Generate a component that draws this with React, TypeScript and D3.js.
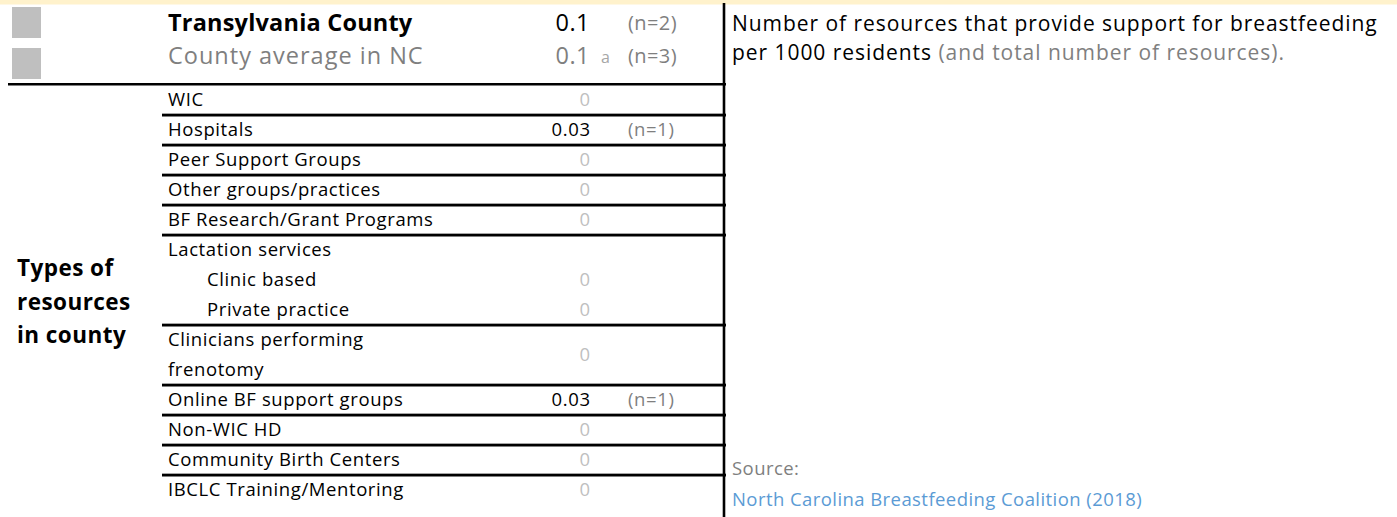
import React from "react";
import * as d3 from "d3";

// header rows
const summaryLabels = ["Transylvania County", "County average in NC"];
const summaryRates = [0.1, 0.1];
const summaryCounts = [2, 3];

// table rows
const resourceTypes = [
  "WIC",
  "Hospitals",
  "Peer Support Groups",
  "Other groups/practices",
  "BF Research/Grant Programs",
  "Lactation services",
  "Clinic based",
  "Private practice",
  "Clinicians performing frenotomy",
  "Online BF support groups",
  "Non-WIC HD",
  "Community Birth Centers",
  "IBCLC Training/Mentoring",
];
const resourceRates = [0, 0.03, 0, 0, 0, null, 0, 0, 0, 0.03, 0, 0, 0];
const resourceCounts = [null, 1, null, null, null, null, null, null, null, 1, null, null, null];

const subTypes = ["Clinic based", "Private practice"];
const wrapped: Record<string, string[]> = {
  "Clinicians performing frenotomy": ["Clinicians performing", "frenotomy"],
};

const W = 1397;
const H = 517;
const FONT = "'Open Sans', sans-serif";
const GRAY = "#7f7f7f";
const LIGHT = "#bfbfbf";

const fmt = d3.format("~g");

const App = () => {
  // one entry per row, with how many text lines it takes
  const rows = resourceTypes.map((name, i) => ({
    name,
    lines: wrapped[name] || [name],
    rate: resourceRates[i],
    n: resourceCounts[i],
    sub: subTypes.includes(name),
  }));
  let acc = 0;
  const placed = rows.map((r) => {
    const start = acc;
    acc += r.lines.length;
    return { ...r, start, end: acc };
  });
  const totalLines = acc;

  const y = d3.scaleLinear().domain([0, totalLines]).range([84, 504]);
  const ySummary = d3.scalePoint<number>().domain([0, 1]).range([31, 64]);
  const ySquare = d3.scalePoint<number>().domain([0, 1]).range([7, 48]);

  const tableLeft = 162;
  const tableRight = 726;
  const valueX = 590;
  const countX = 628;
  const tableFont = 18.5;
  const tableLs = 0.6;

  return (
    <svg
      width={W}
      height={H}
      style={{ position: "absolute", left: 0, top: 0, fontFamily: FONT }}
    >
      <rect x={0} y={0} width={W} height={H} fill="#fff" />
      <rect x={0} y={0} width={W} height={4.5} fill="#fff2cc" />

      {/* summary rows */}
      {summaryLabels.map((label, i) => {
        const base = ySummary(i)!;
        const main = i === 0;
        return (
          <g key={label}>
            <rect x={12} y={ySquare(i)!} width={29} height={31} fill={LIGHT} />
            <text
              x={168}
              y={base}
              fontSize={23.5}
              letterSpacing={main ? 0.2 : 1}
              fontWeight={main ? 700 : 400}
              fill={main ? "#000" : GRAY}
            >
              {label}
            </text>
            <text
              x={valueX}
              y={base}
              fontSize={23.5}
              letterSpacing={0.5}
              textAnchor="end"
              fill={main ? "#000" : GRAY}
            >
              {fmt(summaryRates[i])}
            </text>
            {!main && (
              <text x={601} y={base - 1} fontSize={16} fill="#a6a6a6">
                a
              </text>
            )}
            <text x={countX} y={base - 1} fontSize={20} letterSpacing={0.4} fill={GRAY}>
              (n={summaryCounts[i]})
            </text>
          </g>
        );
      })}

      {/* header rule */}
      <line x1={8} x2={tableRight} y1={84.2} y2={84.2} stroke="#000" strokeWidth={2.6} />

      {/* table rows */}
      {placed.map((r, i) => {
        const top = y(r.start);
        const bottom = y(r.end);
        const isLast = i === placed.length - 1;
        const nextSub = !isLast && placed[i + 1].sub;
        const mid = (top + bottom) / 2;
        return (
          <g key={r.name} fontSize={tableFont} letterSpacing={tableLs}>
            {r.lines.map((ln, j) => (
              <text key={ln} x={r.sub ? 207 : 168} y={y(r.start + j) + 21.5} fill="#000">
                {ln}
              </text>
            ))}
            {r.rate !== null && (
              <text
                x={valueX + tableLs}
                y={mid + 6.5}
                textAnchor="end"
                fill={r.rate === 0 ? LIGHT : "#000"}
              >
                {fmt(r.rate)}
              </text>
            )}
            {r.n !== null && (
              <text x={countX} y={mid + 6.5} fill={GRAY}>
                (n={r.n})
              </text>
            )}
            {!isLast && !nextSub && (
              <g>
                <line x1={tableLeft} x2={tableRight} y1={bottom - 0.5} y2={bottom - 0.5} stroke="#a6a6a6" strokeWidth={1} />
                <line x1={tableLeft} x2={tableRight} y1={bottom + 1.2} y2={bottom + 1.2} stroke="#000" strokeWidth={2.6} />
              </g>
            )}
          </g>
        );
      })}

      {/* left group label */}
      {["Types of", "resources", "in county"].map((t, i) => (
        <text
          key={t}
          x={17}
          y={276 + i * 33.5}
          fontSize={22.5}
          letterSpacing={0.45}
          fontWeight={700}
          fill="#000"
        >
          {t}
        </text>
      ))}

      {/* divider */}
      <line x1={724} x2={724} y1={3} y2={H} stroke="#000" strokeWidth={2.6} />

      {/* description */}
      <g fontSize={21} letterSpacing={0.95}>
        <text x={732} y={31} fill="#000">
          Number of resources that provide support for breastfeeding
        </text>
        <text x={732} y={60} fill="#000">
          per 1000 residents <tspan fill={GRAY}>(and total number of resources).</tspan>
        </text>
      </g>

      {/* source */}
      <g fontSize={18.5} letterSpacing={0.43}>
        <text x={732} y={475} fill={GRAY}>
          Source:
        </text>
        <text x={732} y={506} fill="#5b9bd5">
          North Carolina Breastfeeding Coalition (2018)
        </text>
      </g>
    </svg>
  );
};

export default App;
